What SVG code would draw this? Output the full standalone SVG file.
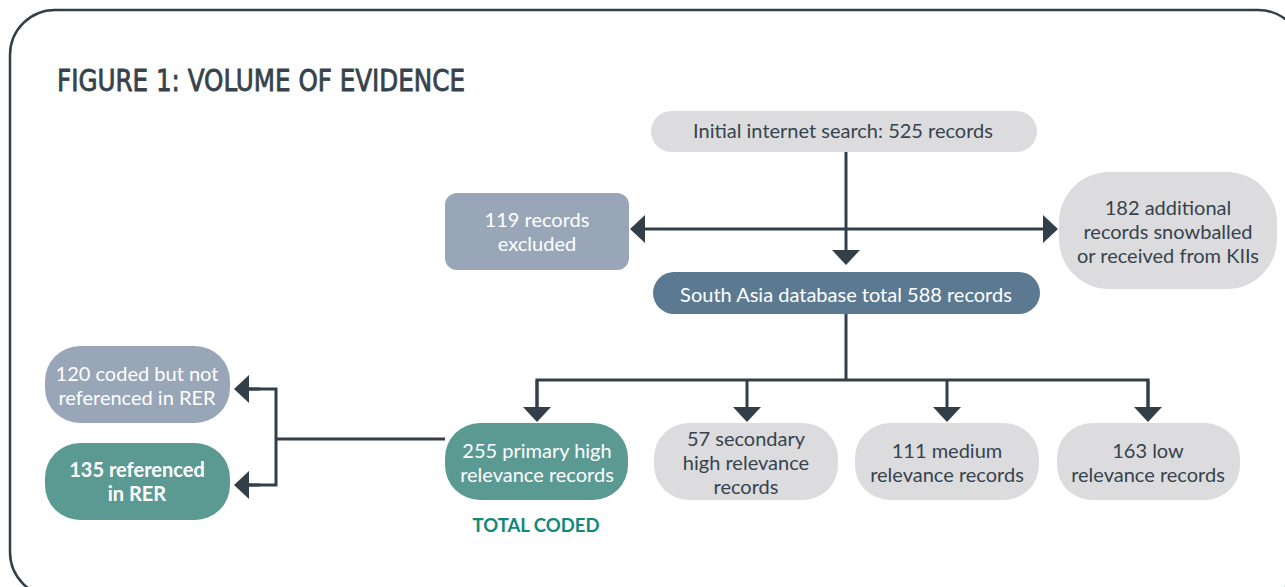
<svg xmlns="http://www.w3.org/2000/svg" width="1285" height="587" viewBox="0 0 1285 587">
<style>
.t{font-family:Lato,"Noto Sans","Liberation Sans",sans-serif;font-size:20px;text-anchor:middle}
.w{fill:#ffffff}
.d{fill:#36434d}
.b{font-weight:bold}
.gray{fill:#dcdcde}
.slate{fill:#98a6b8}
.blue{fill:#5b7a92}
.teal{fill:#5b9a92}
.c{fill:none;stroke:#333f48;stroke-width:3}
</style>
<defs>
<marker id="ah" viewBox="0 0 15 28" refX="0" refY="14" markerWidth="15" markerHeight="28" markerUnits="userSpaceOnUse" orient="auto-start-reverse">
<path d="M0,0 L15,14 L0,28 Z" fill="#333f48"/>
</marker>
</defs>
<rect x="10" y="10" width="1293" height="587" rx="45" ry="45" fill="#ffffff" stroke="#333f48" stroke-width="2.5"/>
<text x="57" y="91" font-family="'DejaVu Sans Condensed','Liberation Sans Narrow','Roboto',sans-serif" font-size="31" fill="#36434d" stroke="#36434d" stroke-width="0.8" textLength="408" lengthAdjust="spacingAndGlyphs">FIGURE 1: VOLUME OF EVIDENCE</text>

<g id="connectors">
<path class="c" d="M846,152 V250" marker-end="url(#ah)"/>
<path class="c" d="M645,229 H1043" marker-start="url(#ah)" marker-end="url(#ah)"/>
<path class="c" d="M846,314 V380"/>
<path class="c" d="M537,407 V380 H1148 V407" />
<path class="c" d="M537,380 V407" marker-end="url(#ah)"/>
<path class="c" d="M747,380 V407" marker-end="url(#ah)"/>
<path class="c" d="M947,380 V407" marker-end="url(#ah)"/>
<path class="c" d="M1148,380 V407" marker-end="url(#ah)"/>
<path class="c" d="M445,439 H276"/>
<path class="c" d="M249,389 H276 V485 H249"/>
<path class="c" d="M260,389 H249" marker-end="url(#ah)"/>
<path class="c" d="M260,485 H249" marker-end="url(#ah)"/>
</g>

<g id="n-initial">
<rect class="gray" x="651" y="111" width="386" height="41" rx="20.5"/>
<text class="t d" x="843" y="138">Initial internet search: 525 records</text>
</g>
<g id="n-excluded">
<rect class="slate" x="445" y="193" width="184" height="77" rx="12"/>
<text class="t w" x="537" y="227">119 records</text>
<text class="t w" x="537" y="251">excluded</text>
</g>
<g id="n-additional">
<rect class="gray" x="1059" y="172" width="218" height="117" rx="50"/>
<text class="t d" x="1168" y="215">182 additional</text>
<text class="t d" x="1168" y="239">records snowballed</text>
<text class="t d" x="1168" y="263">or received from KIIs</text>
</g>
<g id="n-database">
<rect class="blue" x="653" y="272" width="387" height="42" rx="21"/>
<text class="t w" x="846" y="302">South Asia database total 588 records</text>
</g>
<g id="n-notref">
<rect class="slate" x="45" y="346" width="185" height="77" rx="35"/>
<text class="t w" x="137" y="381">120 coded but not</text>
<text class="t w" x="137" y="405">referenced in RER</text>
</g>
<g id="n-ref">
<rect class="teal" x="45" y="443" width="185" height="77" rx="35"/>
<text class="t w b" x="137" y="477" font-size="16.5">135 referenced</text>
<text class="t w b" x="137" y="501" font-size="16.5">in RER</text>
</g>
<g id="n-primary">
<rect class="teal" x="445" y="423" width="183" height="77" rx="35"/>
<text class="t w" x="537" y="458">255 primary high</text>
<text class="t w" x="537" y="482">relevance records</text>
</g>
<g id="n-secondary">
<rect class="gray" x="654" y="423" width="184" height="77" rx="35"/>
<text class="t d" x="746" y="446">57 secondary</text>
<text class="t d" x="746" y="470">high relevance</text>
<text class="t d" x="746" y="494">records</text>
</g>
<g id="n-medium">
<rect class="gray" x="855" y="423" width="184" height="77" rx="35"/>
<text class="t d" x="947" y="458">111 medium</text>
<text class="t d" x="947" y="482">relevance records</text>
</g>
<g id="n-low">
<rect class="gray" x="1057" y="423" width="183" height="77" rx="35"/>
<text class="t d" x="1148" y="458">163 low</text>
<text class="t d" x="1148" y="482">relevance records</text>
</g>
<text x="536" y="532" font-family="Lato,'Noto Sans','Liberation Sans',sans-serif" font-size="18.5" font-weight="bold" fill="#10897a" text-anchor="middle">TOTAL CODED</text>
</svg>
